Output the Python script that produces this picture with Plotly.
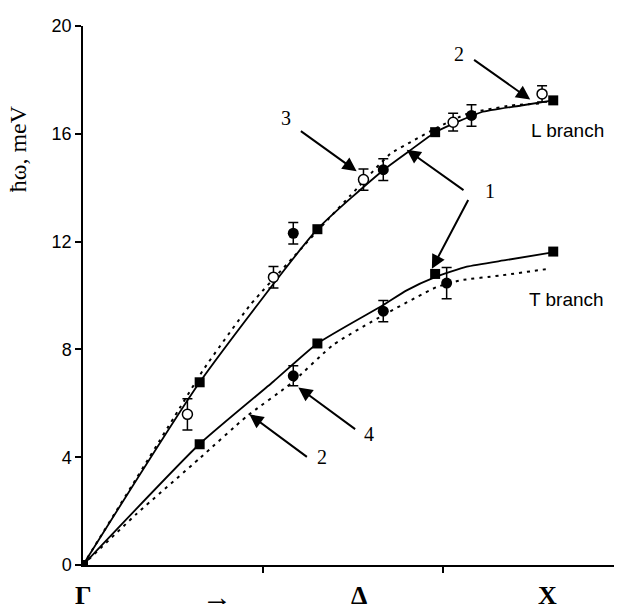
import plotly.graph_objects as go

# ---- data (x in axis units: ticks at 0.5 and 1.0; X point at ~1.306) ----
x_calc = [0, 0.324, 0.651, 0.978, 1.306]
L_calc = [0, 6.78, 12.46, 16.06, 17.24]
T_calc = [0, 4.48, 8.22, 10.80, 11.63]

x_L_filled = [0.584, 0.834, 1.079]
L_filled = [12.31, 14.67, 16.68]
L_filled_err = [0.40, 0.40, 0.40]

x_L_open = [0.290, 0.529, 0.779, 1.028, 1.275]
L_open = [5.59, 10.68, 14.30, 16.43, 17.48]
L_open_err = [0.58, 0.40, 0.39, 0.33, 0.30]

x_T_filled = [0.584, 0.834, 1.010]
T_filled = [7.02, 9.42, 10.46]
T_filled_err = [0.37, 0.39, 0.58]

x_L_solid = [0, 0.324, 0.651, 0.833, 0.908, 0.979, 1.106, 1.217, 1.306]
L_solid = [0, 6.78, 12.46, 14.64, 15.38, 16.06, 16.80, 17.05, 17.24]

x_T_solid = [0, 0.323, 0.529, 0.651, 0.833, 0.899, 0.978, 1.066, 1.177, 1.304]
T_solid = [0, 4.48, 6.81, 8.22, 9.64, 10.19, 10.68, 11.07, 11.32, 11.60]

x_L_dot = [0, 0.269, 0.334, 0.464, 0.584, 0.681, 0.742, 0.853, 0.918, 0.979, 1.067, 1.189, 1.272]
L_dot = [0, 5.83, 7.24, 9.64, 11.42, 12.83, 13.70, 15.25, 15.75, 16.20, 16.74, 17.05, 17.13]

x_T_dot = [0, 0.149, 0.325, 0.455, 0.579, 0.695, 0.834, 0.982, 1.047, 1.158, 1.293]
T_dot = [0, 1.90, 3.97, 5.52, 6.75, 8.17, 9.27, 10.31, 10.56, 10.74, 10.99]

y_ticks = [0, 4, 8, 12, 16, 20]
x_ticks = [0.5, 1.0]
x_labels = ["Γ", "→", "Δ", "X"]
x_label_pos = [0.0, 0.372, 0.767, 1.289]

# arrows: (tail_x, tail_y, tip_x, tip_y)
arrows = [
    (0.601, 16.14, 0.760, 14.61),   # 3
    (1.061, 13.87, 0.899, 15.41),   # 1 -> L
    (1.072, 13.60, 0.969, 10.99),   # 1 -> T
    (1.082, 18.78, 1.242, 17.27),   # 2 top
    (0.760, 5.00, 0.598, 6.59),     # 4
    (0.626, 3.97, 0.462, 5.59),     # 2 bottom
]
num_labels = ["3", "1", "2", "4", "2"]
num_label_pos = [(0.563, 16.57), (1.129, 13.87), (1.043, 18.97), (0.795, 4.87), (0.663, 3.99)]
branch_labels = ["L branch", "T branch"]
branch_pos = [(1.347, 16.19), (1.344, 9.93)]

SANS = "Arial, Liberation Sans, sans-serif"
SERIF = "Times New Roman, Liberation Serif, serif"

fig = go.Figure()

for xs, ys in [(x_L_solid, L_solid), (x_T_solid, T_solid)]:
    fig.add_trace(go.Scatter(x=xs, y=ys, mode="lines",
                             line=dict(color="black", width=1.8, shape="spline", smoothing=0.5),
                             hoverinfo="skip"))
for xs, ys in [(x_L_dot, L_dot), (x_T_dot, T_dot)]:
    fig.add_trace(go.Scatter(x=xs, y=ys, mode="lines",
                             line=dict(color="black", width=2, dash="3px,5px", shape="spline", smoothing=0.5),
                             hoverinfo="skip"))

for ys in [L_calc, T_calc]:
    fig.add_trace(go.Scatter(x=x_calc, y=ys, mode="markers",
                             marker=dict(symbol="square", size=10, color="black")))

err_style = dict(type="data", color="black", thickness=1.5, width=5)
fig.add_trace(go.Scatter(x=x_L_filled, y=L_filled, mode="markers",
                         error_y=dict(array=L_filled_err, **err_style),
                         marker=dict(symbol="circle", size=11, color="black")))
fig.add_trace(go.Scatter(x=x_T_filled, y=T_filled, mode="markers",
                         error_y=dict(array=T_filled_err, **err_style),
                         marker=dict(symbol="circle", size=11, color="black")))
fig.add_trace(go.Scatter(x=x_L_open, y=L_open, mode="markers",
                         error_y=dict(array=L_open_err, **err_style),
                         marker=dict(symbol="circle", size=10, color="white",
                                     line=dict(color="black", width=1.5))))

ann = []
for tx, ty, hx, hy in arrows:
    ann.append(dict(x=hx, y=hy, ax=tx, ay=ty, xref="x", yref="y", axref="x", ayref="y",
                    text="", showarrow=True, arrowhead=2, arrowsize=1.4, arrowwidth=2,
                    arrowcolor="black"))
for t, (px, py) in zip(num_labels, num_label_pos):
    ann.append(dict(x=px, y=py, xref="x", yref="y", text=t, showarrow=False,
                    font=dict(family=SERIF, size=20, color="black")))
for t, (px, py) in zip(branch_labels, branch_pos):
    ann.append(dict(x=px, y=py, xref="x", yref="y", text=t, showarrow=False, yshift=-2,
                    font=dict(family=SANS, size=19, color="black")))
for t, px in zip(x_labels, x_label_pos):
    is_arrow = t == "→"
    ann.append(dict(x=px, y=0, xref="x", yref="paper", yanchor="middle",
                    yshift=-31 if is_arrow else -30,
                    text=t if is_arrow else f"<b>{t}</b>", showarrow=False,
                    font=dict(family=SERIF, size=30 if is_arrow else 26, color="black")))
ann.append(dict(x=-0.1206, y=0.773, xref="paper", yref="paper", text="ħω, meV",
                textangle=-90, showarrow=False, xanchor="center", yanchor="middle",
                font=dict(family=SERIF, size=24, color="black")))

# page body has an 8px default margin: offset plot margins to compensate
fig.update_layout(
    width=622, height=604, autosize=False,
    margin=dict(l=75, r=8, t=14, b=47),
    paper_bgcolor="white", plot_bgcolor="white",
    showlegend=False,
    annotations=ann,
    xaxis=dict(range=[0, 1.497], tickvals=x_ticks, showticklabels=False,
               ticks="outside", ticklen=6, tickwidth=1.5, tickcolor="black",
               showline=True, linecolor="black", linewidth=1.5,
               showgrid=False, zeroline=False),
    yaxis=dict(range=[0, 20], tickvals=y_ticks,
               ticks="outside", ticklen=6, tickwidth=1.5, tickcolor="black",
               showline=True, linecolor="black", linewidth=1.5,
               showgrid=False, zeroline=False,
               tickfont=dict(family=SANS, size=18, color="black")),
)

fig.write_html("out.html")
